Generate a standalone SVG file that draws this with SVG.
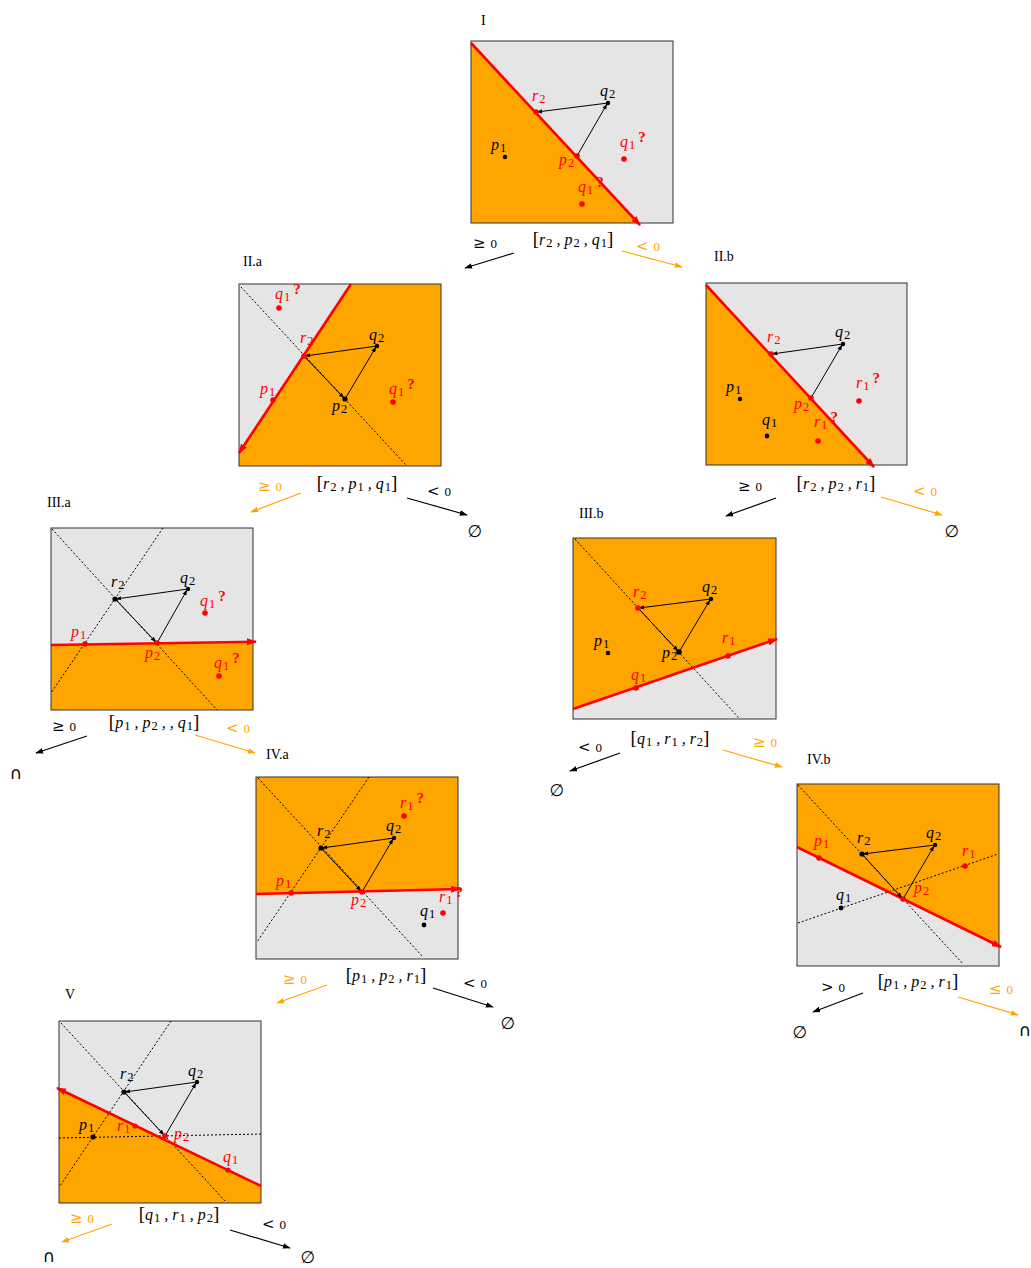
<svg xmlns="http://www.w3.org/2000/svg" width="1031" height="1268" viewBox="0 0 1031 1268">
<defs>
<style>
.bg{fill:#e5e5e5}
.or{fill:#ffa500}
.box{fill:none;stroke:#333;stroke-width:1}
.rl{stroke:#ff0000;stroke-width:2.6;fill:none}
.dl{stroke:#000;stroke-width:1;stroke-dasharray:2,2;fill:none}
.tr{stroke:#000;stroke-width:1;fill:none;marker-end:url(#as)}
.cb{stroke:#000;stroke-width:1.2;fill:none;marker-end:url(#ab)}
.co{stroke:#ffa500;stroke-width:1.2;fill:none;marker-end:url(#ao)}
.m{font-family:"Liberation Serif",serif;font-style:italic;font-size:16px}
.s{font-size:12.5px;font-style:normal}
.q{font-weight:bold;font-style:normal;font-size:15px}
.n{font-style:normal}
.rel{font-family:"DejaVu Serif",serif;font-size:15px}
.rel tspan{font-size:11px}
.t{font-family:"Liberation Serif",serif;font-size:14px}
.z{font-family:"DejaVu Sans",sans-serif;font-size:17px;text-anchor:middle}
.red{fill:#ff0000}
.org{fill:#ffa500}
.blk{fill:#000}
</style>
<marker id="ab" viewBox="0 0 10 10" refX="9" refY="5" markerWidth="8" markerHeight="8" orient="auto" markerUnits="userSpaceOnUse"><path d="M0,1.5 L10,5 L0,8.5 z" fill="#000"/></marker>
<marker id="ao" viewBox="0 0 10 10" refX="9" refY="5" markerWidth="8" markerHeight="8" orient="auto" markerUnits="userSpaceOnUse"><path d="M0,1.5 L10,5 L0,8.5 z" fill="#ffa500"/></marker>
<marker id="ar" viewBox="0 0 10 10" refX="9" refY="5" markerWidth="10" markerHeight="10" orient="auto" markerUnits="userSpaceOnUse"><path d="M0,1.5 L10,5 L0,8.5 z" fill="#ff0000"/></marker>
<marker id="as" viewBox="0 0 10 10" refX="9" refY="5" markerWidth="6" markerHeight="6" orient="auto" markerUnits="userSpaceOnUse"><path d="M0,1.5 L10,5 L0,8.5 z" fill="#000"/></marker>
</defs>
<rect width="1031" height="1268" fill="#fff"/>

<!-- Panel I -->
<g id="panel-I">
<text class="t" x="481" y="25">I</text>
<rect class="bg" x="471" y="41" width="202" height="182"/>
<polygon class="or" points="471,43 638,223 471,223"/>
<rect class="box" x="471" y="41" width="202" height="182"/>
<line class="rl" x1="471" y1="43" x2="640" y2="225" marker-end="url(#ar)"/>
<line class="tr" x1="608" y1="103" x2="537" y2="112"/>
<line class="tr" x1="577" y1="156" x2="607" y2="104"/>
<circle cx="505" cy="157" r="2.2" class="blk"/>
<circle cx="536" cy="112" r="2.8" class="red"/>
<circle cx="608" cy="103" r="2.2" class="blk"/>
<circle cx="577" cy="156" r="2.8" class="red"/>
<circle cx="624" cy="159" r="2.8" class="red"/>
<circle cx="582" cy="204" r="2.8" class="red"/>
<text class="m red" x="532" y="101">r<tspan class="s" dx="1" dy="2">2</tspan></text>
<text class="m" x="600" y="96">q<tspan class="s" dx="1" dy="2">2</tspan></text>
<text class="m" x="491" y="150">p<tspan class="s" dx="1" dy="2">1</tspan></text>
<text class="m red" x="559" y="165">p<tspan class="s" dx="1" dy="2">2</tspan></text>
<text class="m red" x="620" y="147">q<tspan class="s" dx="1" dy="2">1</tspan><tspan class="q" dx="3" dy="-7">?</tspan></text>
<text class="m red" x="578" y="192">q<tspan class="s" dx="1" dy="2">1</tspan><tspan class="q" dx="3" dy="-7">?</tspan></text>
<text class="m" x="573" y="245" text-anchor="middle"><tspan class="n" font-size="19">[</tspan>r<tspan class="s" dx="1" dy="2">2</tspan><tspan dy="-2"> , </tspan>p<tspan class="s" dx="1" dy="2">2</tspan><tspan dy="-2"> , </tspan>q<tspan class="s" dx="1" dy="2">1</tspan><tspan class="n" font-size="19" dy="-2">]</tspan></text>
<text class="rel" x="473" y="248">≥ <tspan>0</tspan></text>
<text class="rel org" x="636" y="251">&lt; <tspan>0</tspan></text>
</g>

<!-- Panel II.a -->
<g id="panel-IIa">
<text class="t" x="243" y="266">II.a</text>
<rect class="bg" x="239" y="284" width="202" height="182"/>
<polygon class="or" points="351,284 441,284 441,466 239,466 239,451"/>
<rect class="box" x="239" y="284" width="202" height="182"/>
<line class="dl" x1="241" y1="287" x2="406" y2="465"/>
<line class="rl" x1="351" y1="284" x2="239" y2="453" marker-end="url(#ar)"/>
<line class="tr" x1="377" y1="346" x2="305" y2="356"/>
<line class="tr" x1="304" y1="356" x2="344" y2="398"/>
<line class="tr" x1="345" y1="399" x2="376" y2="347"/>
<circle cx="279" cy="308" r="2.8" class="red"/>
<circle cx="304" cy="356" r="2.8" class="red"/>
<circle cx="377" cy="346" r="2.2" class="blk"/>
<circle cx="345" cy="399" r="2.6" class="blk"/>
<circle cx="273" cy="400" r="2.8" class="red"/>
<circle cx="393" cy="402" r="2.8" class="red"/>
<text class="m red" x="275" y="299">q<tspan class="s" dx="1" dy="2">1</tspan><tspan class="q" dx="3" dy="-7">?</tspan></text>
<text class="m red" x="300" y="343">r<tspan class="s" dx="1" dy="2">2</tspan></text>
<text class="m" x="369" y="340">q<tspan class="s" dx="1" dy="2">2</tspan></text>
<text class="m red" x="260" y="394">p<tspan class="s" dx="1" dy="2">1</tspan></text>
<text class="m" x="332" y="411">p<tspan class="s" dx="1" dy="2">2</tspan></text>
<text class="m red" x="389" y="394">q<tspan class="s" dx="1" dy="2">1</tspan><tspan class="q" dx="3" dy="-7">?</tspan></text>
<text class="m" x="357" y="489" text-anchor="middle"><tspan class="n" font-size="19">[</tspan>r<tspan class="s" dx="1" dy="2">2</tspan><tspan dy="-2"> , </tspan>p<tspan class="s" dx="1" dy="2">1</tspan><tspan dy="-2"> , </tspan>q<tspan class="s" dx="1" dy="2">1</tspan><tspan class="n" font-size="19" dy="-2">]</tspan></text>
<text class="rel org" x="258" y="491">≥ <tspan>0</tspan></text>
<text class="rel" x="427" y="496">&lt; <tspan>0</tspan></text>
</g>

<!-- Panel II.b -->
<g id="panel-IIb">
<text class="t" x="714" y="261">II.b</text>
<rect class="bg" x="706" y="283" width="201" height="182"/>
<polygon class="or" points="706,285 872,465 706,465"/>
<rect class="box" x="706" y="283" width="201" height="182"/>
<line class="rl" x1="706" y1="285" x2="874" y2="467" marker-end="url(#ar)"/>
<line class="tr" x1="843" y1="344" x2="772" y2="354"/>
<line class="tr" x1="811" y1="398" x2="842" y2="345"/>
<circle cx="771" cy="354" r="2.8" class="red"/>
<circle cx="843" cy="344" r="2.2" class="blk"/>
<circle cx="811" cy="398" r="2.8" class="red"/>
<circle cx="740" cy="399" r="2.2" class="blk"/>
<circle cx="767" cy="436" r="2.4" class="blk"/>
<circle cx="859" cy="401" r="2.8" class="red"/>
<circle cx="818" cy="441" r="2.8" class="red"/>
<text class="m red" x="767" y="342">r<tspan class="s" dx="1" dy="2">2</tspan></text>
<text class="m" x="835" y="337">q<tspan class="s" dx="1" dy="2">2</tspan></text>
<text class="m" x="726" y="392">p<tspan class="s" dx="1" dy="2">1</tspan></text>
<text class="m" x="762" y="425">q<tspan class="s" dx="1" dy="2">1</tspan></text>
<text class="m red" x="794" y="409">p<tspan class="s" dx="1" dy="2">2</tspan></text>
<text class="m red" x="856" y="388">r<tspan class="s" dx="1" dy="2">1</tspan><tspan class="q" dx="3" dy="-7">?</tspan></text>
<text class="m red" x="814" y="427">r<tspan class="s" dx="1" dy="2">1</tspan><tspan class="q" dx="3" dy="-7">?</tspan></text>
<text class="m" x="836" y="489" text-anchor="middle"><tspan class="n" font-size="19">[</tspan>r<tspan class="s" dx="1" dy="2">2</tspan><tspan dy="-2"> , </tspan>p<tspan class="s" dx="1" dy="2">2</tspan><tspan dy="-2"> , </tspan>r<tspan class="s" dx="1" dy="2">1</tspan><tspan class="n" font-size="19" dy="-2">]</tspan></text>
<text class="rel" x="738" y="491">≥ <tspan>0</tspan></text>
<text class="rel org" x="913" y="496">&lt; <tspan>0</tspan></text>
</g>

<!-- Panel III.a -->
<g id="panel-IIIa">
<text class="t" x="47" y="507">III.a</text>
<rect class="bg" x="51" y="528" width="202" height="182"/>
<polygon class="or" points="51,645 253,642 253,710 51,710"/>
<rect class="box" x="51" y="528" width="202" height="182"/>
<line class="dl" x1="52" y1="529" x2="217" y2="710"/>
<line class="dl" x1="163" y1="528" x2="51" y2="693"/>
<line class="rl" x1="51" y1="645" x2="256" y2="641.7" marker-end="url(#ar)"/>
<line class="tr" x1="188" y1="589" x2="116" y2="599"/>
<line class="tr" x1="115" y1="599" x2="156" y2="642"/>
<line class="tr" x1="157" y1="643" x2="187" y2="590"/>
<circle cx="115" cy="599" r="2.6" class="blk"/>
<circle cx="188" cy="589" r="2.2" class="blk"/>
<circle cx="157" cy="643" r="2.8" class="red"/>
<circle cx="85" cy="644" r="2.8" class="red"/>
<circle cx="205" cy="613" r="2.8" class="red"/>
<circle cx="219" cy="676" r="2.8" class="red"/>
<text class="m" x="111" y="587">r<tspan class="s" dx="1" dy="2">2</tspan></text>
<text class="m" x="180" y="583">q<tspan class="s" dx="1" dy="2">2</tspan></text>
<text class="m red" x="200" y="606">q<tspan class="s" dx="1" dy="2">1</tspan><tspan class="q" dx="3" dy="-7">?</tspan></text>
<text class="m red" x="71" y="637">p<tspan class="s" dx="1" dy="2">1</tspan></text>
<text class="m red" x="145" y="658">p<tspan class="s" dx="1" dy="2">2</tspan></text>
<text class="m red" x="214" y="668">q<tspan class="s" dx="1" dy="2">1</tspan><tspan class="q" dx="3" dy="-7">?</tspan></text>
<text class="m" x="154" y="728" text-anchor="middle"><tspan class="n" font-size="19">[</tspan>p<tspan class="s" dx="1" dy="2">1</tspan><tspan dy="-2"> , </tspan>p<tspan class="s" dx="1" dy="2">2</tspan><tspan dy="-2"> , , </tspan>q<tspan class="s" dx="1" dy="2">1</tspan><tspan class="n" font-size="19" dy="-2">]</tspan></text>
<text class="rel" x="52" y="731">≥ <tspan>0</tspan></text>
<text class="rel org" x="226" y="733">&lt; <tspan>0</tspan></text>
</g>

<!-- Panel III.b -->
<g id="panel-IIIb">
<text class="t" x="579" y="518">III.b</text>
<rect class="or" x="573" y="538" width="203" height="181"/>
<polygon class="bg" points="573,709 776,639.5 776,719 573,719"/>
<rect class="box" x="573" y="538" width="203" height="181"/>
<line class="dl" x1="575" y1="539" x2="739" y2="718"/>
<line class="rl" x1="573" y1="709" x2="777" y2="639" marker-end="url(#ar)"/>
<line class="tr" x1="711" y1="599" x2="639" y2="608"/>
<line class="tr" x1="638" y1="608" x2="678" y2="651"/>
<line class="tr" x1="679" y1="652" x2="710" y2="600"/>
<circle cx="638" cy="608" r="2.8" class="red"/>
<circle cx="711" cy="599" r="2.2" class="blk"/>
<circle cx="679" cy="652" r="2.8" class="blk"/>
<circle cx="608" cy="653" r="2.2" class="blk"/>
<circle cx="636" cy="688" r="2.8" class="red"/>
<circle cx="728" cy="656" r="2.8" class="red"/>
<text class="m red" x="633" y="597">r<tspan class="s" dx="1" dy="2">2</tspan></text>
<text class="m" x="702" y="592">q<tspan class="s" dx="1" dy="2">2</tspan></text>
<text class="m" x="594" y="646">p<tspan class="s" dx="1" dy="2">1</tspan></text>
<text class="m" x="662" y="658">p<tspan class="s" dx="1" dy="2">2</tspan></text>
<text class="m red" x="631" y="680">q<tspan class="s" dx="1" dy="2">1</tspan></text>
<text class="m red" x="722" y="643">r<tspan class="s" dx="1" dy="2">1</tspan></text>
<text class="m" x="670" y="744" text-anchor="middle"><tspan class="n" font-size="19">[</tspan>q<tspan class="s" dx="1" dy="2">1</tspan><tspan dy="-2"> , </tspan>r<tspan class="s" dx="1" dy="2">1</tspan><tspan dy="-2"> , </tspan>r<tspan class="s" dx="1" dy="2">2</tspan><tspan class="n" font-size="19" dy="-2">]</tspan></text>
<text class="rel" x="578" y="752">&lt; <tspan>0</tspan></text>
<text class="rel org" x="753" y="747">≥ <tspan>0</tspan></text>
</g>

<!-- Panel IV.a -->
<g id="panel-IVa">
<text class="t" x="266" y="759">IV.a</text>
<rect class="or" x="256" y="777" width="202" height="182"/>
<polygon class="bg" points="256,894 458,889 458,959 256,959"/>
<rect class="box" x="256" y="777" width="202" height="182"/>
<line class="dl" x1="258" y1="778" x2="423" y2="957"/>
<line class="dl" x1="369" y1="777" x2="257" y2="942"/>
<line class="rl" x1="256" y1="894" x2="460" y2="889" marker-end="url(#ar)"/>
<line class="tr" x1="394" y1="838" x2="322" y2="848"/>
<line class="tr" x1="321" y1="848" x2="361" y2="891"/>
<line class="tr" x1="362" y1="892" x2="393" y2="839"/>
<circle cx="321" cy="848" r="2.6" class="blk"/>
<circle cx="394" cy="838" r="2.2" class="blk"/>
<circle cx="362" cy="892" r="2.8" class="red"/>
<circle cx="291" cy="893" r="2.8" class="red"/>
<circle cx="404" cy="816" r="2.8" class="red"/>
<circle cx="443" cy="913" r="2.8" class="red"/>
<circle cx="424" cy="925" r="2.4" class="blk"/>
<text class="m" x="317" y="836">r<tspan class="s" dx="1" dy="2">2</tspan></text>
<text class="m" x="386" y="831">q<tspan class="s" dx="1" dy="2">2</tspan></text>
<text class="m red" x="400" y="808">r<tspan class="s" dx="1" dy="2">1</tspan><tspan class="q" dx="3" dy="-7">?</tspan></text>
<text class="m red" x="276" y="886">p<tspan class="s" dx="1" dy="2">1</tspan></text>
<text class="m red" x="351" y="905">p<tspan class="s" dx="1" dy="2">2</tspan></text>
<text class="m red" x="439" y="902">r<tspan class="s" dx="1" dy="2">1</tspan><tspan class="q" dx="3" dy="-7">?</tspan></text>
<text class="m" x="420" y="916">q<tspan class="s" dx="1" dy="2">1</tspan></text>
<text class="m" x="386" y="981" text-anchor="middle"><tspan class="n" font-size="19">[</tspan>p<tspan class="s" dx="1" dy="2">1</tspan><tspan dy="-2"> , </tspan>p<tspan class="s" dx="1" dy="2">2</tspan><tspan dy="-2"> , </tspan>r<tspan class="s" dx="1" dy="2">1</tspan><tspan class="n" font-size="19" dy="-2">]</tspan></text>
<text class="rel org" x="283" y="984">≥ <tspan>0</tspan></text>
<text class="rel" x="463" y="988">&lt; <tspan>0</tspan></text>
</g>

<!-- Panel IV.b -->
<g id="panel-IVb">
<text class="t" x="807" y="764">IV.b</text>
<rect class="bg" x="797" y="784" width="202" height="182"/>
<polygon class="or" points="797,847 999,946 999,784 797,784"/>
<rect class="box" x="797" y="784" width="202" height="182"/>
<line class="dl" x1="798" y1="785" x2="963" y2="964"/>
<line class="dl" x1="798" y1="923" x2="998" y2="854"/>
<line class="rl" x1="797" y1="847" x2="1001" y2="947" marker-end="url(#ar)"/>
<line class="tr" x1="935" y1="845" x2="863" y2="854"/>
<line class="tr" x1="862" y1="854" x2="902" y2="898"/>
<line class="tr" x1="903" y1="899" x2="934" y2="846"/>
<circle cx="862" cy="854" r="2.6" class="blk"/>
<circle cx="935" cy="845" r="2.2" class="blk"/>
<circle cx="903" cy="899" r="2.8" class="red"/>
<circle cx="819" cy="858" r="2.8" class="red"/>
<circle cx="965" cy="866" r="2.8" class="red"/>
<circle cx="841" cy="908" r="2.4" class="blk"/>
<text class="m" x="857" y="843">r<tspan class="s" dx="1" dy="2">2</tspan></text>
<text class="m" x="926" y="838">q<tspan class="s" dx="1" dy="2">2</tspan></text>
<text class="m red" x="814" y="846">p<tspan class="s" dx="1" dy="2">1</tspan></text>
<text class="m red" x="962" y="856">r<tspan class="s" dx="1" dy="2">1</tspan></text>
<text class="m red" x="914" y="893">p<tspan class="s" dx="1" dy="2">2</tspan></text>
<text class="m" x="836" y="900">q<tspan class="s" dx="1" dy="2">1</tspan></text>
<text class="m" x="918" y="987" text-anchor="middle"><tspan class="n" font-size="19">[</tspan>p<tspan class="s" dx="1" dy="2">1</tspan><tspan dy="-2"> , </tspan>p<tspan class="s" dx="1" dy="2">2</tspan><tspan dy="-2"> , </tspan>r<tspan class="s" dx="1" dy="2">1</tspan><tspan class="n" font-size="19" dy="-2">]</tspan></text>
<text class="rel" x="821" y="992">&gt; <tspan>0</tspan></text>
<text class="rel org" x="989" y="994">≤ <tspan>0</tspan></text>
</g>

<!-- Panel V -->
<g id="panel-V">
<text class="t" x="65" y="999">V</text>
<rect class="bg" x="59" y="1021" width="202" height="182"/>
<polygon class="or" points="59,1089 261,1186 261,1203 59,1203"/>
<rect class="box" x="59" y="1021" width="202" height="182"/>
<line class="dl" x1="61" y1="1023" x2="226" y2="1202"/>
<line class="dl" x1="171" y1="1021" x2="60" y2="1186"/>
<line class="dl" x1="59" y1="1138" x2="261" y2="1134" stroke-dasharray="3,2"/>
<line class="rl" x1="261" y1="1186" x2="57" y2="1088" marker-end="url(#ar)"/>
<line class="tr" x1="197" y1="1082" x2="125" y2="1092"/>
<line class="tr" x1="124" y1="1092" x2="164" y2="1135"/>
<line class="tr" x1="165" y1="1136" x2="196" y2="1083"/>
<circle cx="124" cy="1092" r="2.6" class="blk"/>
<circle cx="197" cy="1082" r="2.2" class="blk"/>
<circle cx="165" cy="1136" r="2.8" class="red"/>
<circle cx="93" cy="1137" r="2.6" class="blk"/>
<circle cx="135" cy="1126" r="2.6" class="red"/>
<circle cx="228" cy="1170" r="2.6" class="red"/>
<text class="m" x="120" y="1079">r<tspan class="s" dx="1" dy="2">2</tspan></text>
<text class="m" x="188" y="1076">q<tspan class="s" dx="1" dy="2">2</tspan></text>
<text class="m" x="79" y="1130">p<tspan class="s" dx="1" dy="2">1</tspan></text>
<text class="m red" x="117" y="1131">r<tspan class="s" dx="1" dy="2">1</tspan></text>
<text class="m red" x="174" y="1139">p<tspan class="s" dx="1" dy="2">2</tspan></text>
<text class="m red" x="223" y="1162">q<tspan class="s" dx="1" dy="2">1</tspan></text>
<text class="m" x="179" y="1220" text-anchor="middle"><tspan class="n" font-size="19">[</tspan>q<tspan class="s" dx="1" dy="2">1</tspan><tspan dy="-2"> , </tspan>r<tspan class="s" dx="1" dy="2">1</tspan><tspan dy="-2"> , </tspan>p<tspan class="s" dx="1" dy="2">2</tspan><tspan class="n" font-size="19" dy="-2">]</tspan></text>
<text class="rel org" x="70" y="1223">≥ <tspan>0</tspan></text>
<text class="rel" x="262" y="1229">&lt; <tspan>0</tspan></text>
</g>

<!-- Terminal results -->
<g id="results">
<text class="z" x="475" y="537">∅</text>
<text class="z" x="952" y="537">∅</text>
<text class="z" x="557" y="796">∅</text>
<text class="z" x="508" y="1029">∅</text>
<text class="z" x="800" y="1038">∅</text>
<text class="z" x="308" y="1263">∅</text>
<text class="z" x="16" y="779">∩</text>
<text class="z" x="1025" y="1036">∩</text>
<text class="z" x="49" y="1262">∩</text>
</g>

<!-- Connectors -->
<g id="connectors">
<line class="cb" x1="514" y1="253" x2="465" y2="268"/>
<line class="co" x1="622" y1="251" x2="682" y2="267"/>
<line class="co" x1="301" y1="493" x2="251" y2="512"/>
<line class="cb" x1="407" y1="498" x2="467" y2="515"/>
<line class="cb" x1="776" y1="498" x2="726" y2="516"/>
<line class="co" x1="881" y1="497" x2="942" y2="515"/>
<line class="cb" x1="87" y1="736" x2="36" y2="753"/>
<line class="co" x1="195" y1="735" x2="255" y2="753"/>
<line class="cb" x1="620" y1="753" x2="570" y2="771"/>
<line class="co" x1="723" y1="750" x2="782" y2="767"/>
<line class="co" x1="327" y1="985" x2="277" y2="1003"/>
<line class="cb" x1="433" y1="988" x2="493" y2="1007"/>
<line class="cb" x1="863" y1="993" x2="813" y2="1012"/>
<line class="co" x1="958" y1="997" x2="1018" y2="1015"/>
<line class="co" x1="112" y1="1224" x2="62" y2="1242"/>
<line class="cb" x1="230" y1="1230" x2="290" y2="1248"/>
</g>
</svg>
